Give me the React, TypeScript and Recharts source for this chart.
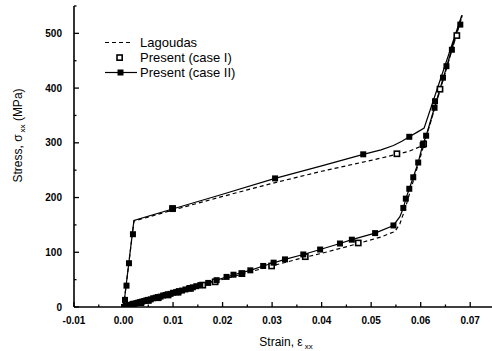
import React from "react";
import { ComposedChart, Line, Scatter, XAxis, YAxis, Legend, Label } from "recharts";

// Lagoudas model (dashed line), loading then unloading path
const LAG_STRAIN = [0, 0.0021, 0.0099, 0.02, 0.0296, 0.04, 0.05, 0.0552, 0.0578, 0.0596, 0.0608, 0.0684, 0.061, 0.0585, 0.0568, 0.0558, 0.0548, 0.052, 0.0474, 0.04, 0.0367, 0.0299, 0.0239, 0.015, 0.01, 0.005, 0.001, 0];
const LAG_STRESS = [0, 157, 177, 202, 225, 248, 268, 279, 285, 292, 302, 533, 307, 230, 178, 152, 138, 128, 116, 98, 91, 75, 60, 38, 25, 12, 2, 0];

// Present (case II) solid line path
const C2_STRAIN = [0, 0.0021, 0.0099, 0.02, 0.0306, 0.04, 0.0484, 0.052, 0.0545, 0.0562, 0.0577, 0.0594, 0.0607, 0.0683, 0.0611, 0.0604, 0.0595, 0.0585, 0.0577, 0.057, 0.0565, 0.0558, 0.0545, 0.0508, 0.0461, 0.0437, 0.0397, 0.0363, 0.0326, 0.0282, 0.0256, 0.0222, 0.0188, 0.0155, 0.01, 0.005, 0.001, 0];
const C2_STRESS = [0, 158, 179, 206, 235, 258, 279, 287, 295, 303, 311, 320, 327, 533, 313, 296, 264, 237, 216, 198, 181, 165, 149, 135, 123, 116, 105, 96, 87, 75, 67, 59, 49, 40, 26, 13, 3, 0];

// Present (case II) markers
const C2M_STRAIN = [0.0003, 0.0006, 0.0011, 0.0019, 0.0099, 0.0306, 0.0484, 0.0577, 0.068, 0.0663, 0.0652, 0.0645, 0.0629, 0.0628, 0.0611, 0.0604, 0.0595, 0.0585, 0.0577, 0.057, 0.0565, 0.0545, 0.0508, 0.0461, 0.0437, 0.0397, 0.0363, 0.0326, 0.0303, 0.0282, 0.0256, 0.0239, 0.0222, 0.0208, 0.0188, 0.0171, 0.0155, 0.0147, 0.014, 0.0132, 0.0125, 0.0118, 0.0112, 0.0106, 0.01, 0.0095, 0.009, 0.0085, 0.008, 0.0075, 0.007, 0.0065, 0.006, 0.0055, 0.005, 0.0046, 0.0042, 0.0038, 0.0034, 0.003, 0.0026, 0.0022, 0.0018, 0.0014, 0.001, 0.0007, 0.0004, 0.0001];
const C2M_STRESS = [13, 39, 80, 133, 179, 235, 279, 311, 516, 470, 440, 419, 376, 364, 313, 296, 264, 237, 216, 198, 181, 149, 135, 123, 116, 105, 96, 87, 81, 75, 67, 61, 59, 55, 49, 44, 40, 38, 36, 34, 32, 30, 29, 27, 26, 24, 23, 22, 21, 19, 18, 17, 16, 14, 13, 12, 11, 10, 9, 8, 7, 6, 5, 4, 3, 2, 1, 0];

// Present (case I) markers
const C1_STRAIN = [0.0099, 0.0552, 0.0606, 0.0639, 0.0673, 0.0474, 0.0367, 0.0299, 0.0239, 0.0185, 0.016, 0.0135, 0.011, 0.009, 0.007, 0.005, 0.0035, 0.002, 0.0008];
const C1_STRESS = [180, 280, 298, 398, 496, 117, 92, 75, 61, 46, 40, 34, 27, 22, 17, 12, 8, 5, 1];

const X_TICKS = [-0.01, -0.005, 0, 0.005, 0.01, 0.015, 0.02, 0.025, 0.03, 0.035, 0.04, 0.045, 0.05, 0.055, 0.06, 0.065, 0.07];
const Y_TICKS = [0, 50, 100, 150, 200, 250, 300, 350, 400, 450, 500, 550];

const LEGEND_NAMES = ["Lagoudas", "Present (case I)", "Present (case II)"];

const zip = (xs: number[], ys: number[]) => xs.map((x, i) => ({ x, y: ys[i] }));
const lagData = zip(LAG_STRAIN, LAG_STRESS);
const c2Data = zip(C2_STRAIN, C2_STRESS);
const c2Markers = zip(C2M_STRAIN, C2M_STRESS);
const c1Markers = zip(C1_STRAIN, C1_STRESS);

const FONT = "'Liberation Sans', Arial, Helvetica, sans-serif";

const FilledSquare = (props: any) => {
  const { cx, cy } = props;
  if (cx == null || cy == null) return null;
  return <rect x={cx - 3} y={cy - 3} width={6} height={6} fill="#000" />;
};
const OpenSquare = (props: any) => {
  const { cx, cy } = props;
  if (cx == null || cy == null) return null;
  return <rect x={cx - 2.6} y={cy - 2.6} width={5.2} height={5.2} fill="#fff" stroke="#000" strokeWidth={1.6} />;
};

const XTick = (props: any) => {
  const { x, y, payload } = props;
  const v = payload.value as number;
  const major = Math.abs(Math.round(v * 100) - v * 100) < 1e-6;
  return (
    <g>
      <line x1={x} x2={x} y1={y} y2={y - (major ? 5 : 2.5)} stroke="#000" strokeWidth={1.3} />
      {major && (
        <text x={x} y={y + 10} dy="0.71em" textAnchor="middle" fontSize={10} fontWeight="bold" fontFamily={FONT} fill="#000">
          {v.toFixed(2)}
        </text>
      )}
    </g>
  );
};

const YTick = (props: any) => {
  const { x, y, payload } = props;
  const v = payload.value as number;
  const major = v % 100 === 0;
  return (
    <g>
      <line x1={x} x2={x + (major ? 5 : 2.5)} y1={y} y2={y} stroke="#000" strokeWidth={1.3} />
      {major && (
        <text x={x - 12} y={y} dy="0.35em" textAnchor="end" fontSize={10} fontWeight="bold" fontFamily={FONT} fill="#000">
          {v}
        </text>
      )}
    </g>
  );
};

const XTitle = (props: any) => {
  const vb = props.viewBox || {};
  const cx = vb.x + vb.width / 2 + 3;
  const by = vb.y + 39;
  return (
    <text x={cx} y={by} textAnchor="middle" fontSize={12} fontFamily={FONT} fill="#000">
      Strain, ε<tspan dx={2} dy={3} fontSize={8}>xx</tspan>
    </text>
  );
};

const YTitle = (props: any) => {
  const vb = props.viewBox || {};
  const bx = 22;
  const cy = vb.y + vb.height / 2 - 21;
  return (
    <text x={bx} y={cy} transform={`rotate(-90, ${bx}, ${cy})`} textAnchor="middle" fontSize={12} fontFamily={FONT} fill="#000">
      Stress, σ<tspan dx={2} dy={3} fontSize={8}>xx</tspan><tspan dy={-3}> (MPa)</tspan>
    </text>
  );
};

const renderLegend = () => (
  <div style={{ fontFamily: FONT, fontSize: 13, color: "#000" }}>
    {LEGEND_NAMES.map((name, i) => (
      <div key={name} style={{ display: "flex", alignItems: "center", height: 15, lineHeight: "15px" }}>
        <svg width={38} height={15} style={{ display: "block" }}>
          {i === 0 && <line x1={3} x2={31} y1={7.5} y2={7.5} stroke="#000" strokeWidth={1.2} strokeDasharray="4 3" />}
          {i === 1 && <rect x={15} y={5} width={5.2} height={5.2} fill="#fff" stroke="#000" strokeWidth={1.6} />}
          {i === 2 && (
            <g>
              <line x1={3} x2={35} y1={7.5} y2={7.5} stroke="#000" strokeWidth={1.2} />
              <rect x={15.5} y={4.5} width={6} height={6} fill="#000" />
            </g>
          )}
        </svg>
        <span>{name}</span>
      </div>
    ))}
  </div>
);

export default function App() {
  return (
    <div style={{ position: "absolute", left: 0, top: 0, width: 492, height: 351, background: "#fff" }}>
      <ComposedChart width={492} height={351} margin={{ top: 6, right: 0, bottom: 0, left: 0 }}>
        <XAxis
          dataKey="x"
          type="number"
          domain={[-0.01, 0.0744]}
          allowDataOverflow
          ticks={X_TICKS}
          interval={0}
          tick={<XTick />}
          tickLine={false}
          tickSize={0}
          tickMargin={0}
          height={44}
          axisLine={{ stroke: "#000", strokeWidth: 1.6 }}
        >
          <Label content={<XTitle />} />
        </XAxis>
        <YAxis
          dataKey="y"
          type="number"
          domain={[0, 550]}
          allowDataOverflow
          ticks={Y_TICKS}
          interval={0}
          tick={<YTick />}
          tickLine={false}
          tickSize={0}
          tickMargin={0}
          width={74}
          axisLine={{ stroke: "#000", strokeWidth: 1.6 }}
        >
          <Label content={<YTitle />} />
        </YAxis>
        <Legend
          layout="vertical"
          align="center"
          verticalAlign="middle"
          content={renderLegend}
          wrapperStyle={{ left: 102, top: 35, width: 200, height: 45 }}
        />
        <Line data={lagData} dataKey="y" type="linear" stroke="#000" strokeWidth={1.2} strokeDasharray="4 3" dot={false} activeDot={false} isAnimationActive={false} legendType="none" />
        <Line data={c2Data} dataKey="y" type="linear" stroke="#000" strokeWidth={1.2} dot={false} activeDot={false} isAnimationActive={false} legendType="none" />
        <Scatter data={c1Markers} dataKey="y" shape={<OpenSquare />} isAnimationActive={false} legendType="none" />
        <Scatter data={c2Markers} dataKey="y" shape={<FilledSquare />} isAnimationActive={false} legendType="none" />
      </ComposedChart>
    </div>
  );
}
